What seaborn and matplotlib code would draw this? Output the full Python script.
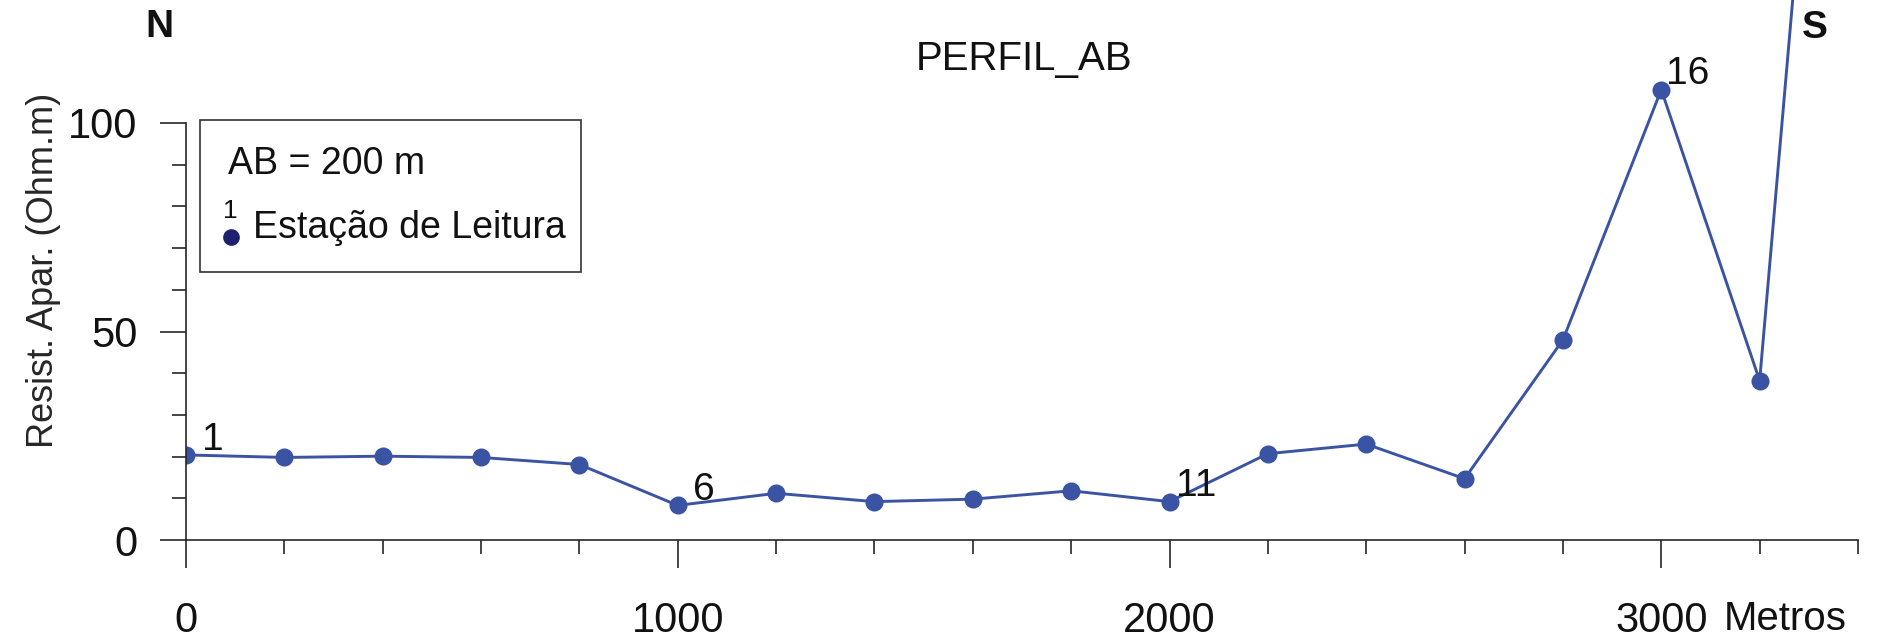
import pandas as pd
import seaborn as sns
import matplotlib.pyplot as plt
from matplotlib.ticker import MultipleLocator, FixedLocator

# Data
distancia = [0, 200, 400, 600, 800, 1000, 1200, 1400, 1600, 1800,
             2000, 2200, 2400, 2600, 2800, 3000, 3200, 3400]
resistividade = [20.4, 19.8, 20.1, 19.8, 18.1, 8.3, 11.2, 9.2, 9.8, 11.8,
                 9.2, 20.7, 23.0, 14.7, 48.0, 108.0, 38.2, 310.0]
estacoes = list(range(1, 19))
rotuladas = [1, 6, 11, 16]

df = pd.DataFrame({"x": distancia, "y": resistividade, "estacao": estacoes})

sns.set_style("ticks")
plt.rcParams["font.family"] = ["Liberation Sans", "DejaVu Sans"]
plt.rcParams["text.color"] = "#111111"

cor = "#3a54a3"
fs = 30

fig = plt.figure(figsize=(18.79, 6.41), dpi=100)
ax = fig.add_axes([186 / 1879, 101 / 641, (1858 - 186) / 1879, 540 / 641])

sns.lineplot(data=df, x="x", y="y", ax=ax, color=cor, lw=2.1,
             marker="o", markersize=13, markeredgewidth=0)

for est, xv, yv in zip(estacoes, distancia, resistividade):
    if est in rotuladas:
        ax.annotate(str(est), (xv, yv), xytext=(19, 11),
                    textcoords="offset points", ha="center", va="center",
                    fontsize=fs - 2)

ax.set_xlim(0, 3400)
ax.set_ylim(0, 540 / 4.17)
ax.xaxis.set_major_locator(MultipleLocator(1000))
ax.xaxis.set_minor_locator(MultipleLocator(200))
ax.yaxis.set_major_locator(FixedLocator([0, 50, 100]))
ax.yaxis.set_minor_locator(FixedLocator(list(range(0, 101, 10))))
ax.spines["left"].set_bounds(0, 100)
ax.tick_params(which="major", length=19, width=1.2, labelsize=fs,
               labelcolor="#111111")
ax.tick_params(axis="x", which="major", length=20, pad=24)
ax.tick_params(axis="y", which="major", pad=16)
ax.tick_params(which="minor", length=10, width=1.2)
for s in ["top", "right"]:
    ax.spines[s].set_visible(False)
for s in ["left", "bottom"]:
    ax.spines[s].set_linewidth(1.2)

ax.set_xlabel("")
ax.set_ylabel("Resist. Apar. (Ohm.m)", fontsize=fs - 4)
ax.yaxis.set_label_coords(-0.075, 0.5)

fig.text(1785 / 1879, 1 - 619 / 641, "Metros", fontsize=fs - 1,
         ha="center", va="center")
fig.text(1024 / 1879, 1 - 59 / 641, "PERFIL_AB", fontsize=fs - 1,
         ha="center", va="center")
fig.text(159 / 1879, 1 - 27 / 641, "N", fontsize=fs - 2, fontweight="bold",
         ha="center", va="center")
fig.text(1815 / 1879, 1 - 28 / 641, "S", fontsize=fs - 2, fontweight="bold",
         ha="center", va="center")

# legend box
caixa = plt.Rectangle((200 / 1879, 1 - 272 / 641), 381 / 1879, 152 / 641,
                      transform=fig.transFigure, fill=False, ec="#333333",
                      lw=1.2)
fig.patches.append(caixa)
fig.text(228 / 1879, 1 - 164 / 641, "AB = 200 m", fontsize=fs - 3,
         ha="left", va="center")
fig.text(253 / 1879, 1 - 228 / 641, "Estação de Leitura", fontsize=fs - 3,
         ha="left", va="center")
fig.text(230 / 1879, 1 - 211 / 641, "1", fontsize=fs - 11,
         ha="center", va="center")
fig.add_artist(plt.Line2D([231 / 1879], [1 - 237 / 641], marker="o",
                          color="#1f1f70", markersize=11, ls="",
                          transform=fig.transFigure))

fig.savefig("out.png", dpi=100)
